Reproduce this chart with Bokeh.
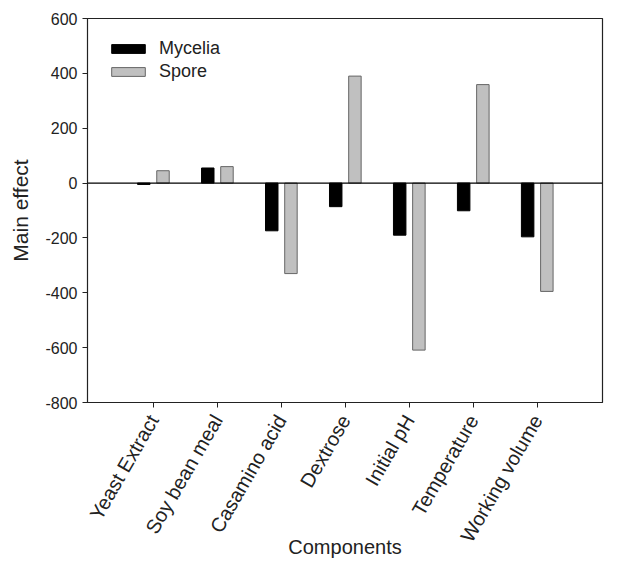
from bokeh.plotting import figure
from bokeh.models import FixedTicker, Span, Legend, LegendItem, Range1d
from bokeh.embed import file_html
from bokeh.resources import INLINE

categories = ["Yeast Extract", "Soy bean meal", "Casamino acid", "Dextrose",
              "Initial pH", "Temperature", "Working volume"]
mycelia = [-5, 55, -174, -86, -190, -101, -196]
spore = [45, 60, -330, 390, -609, 359, -395]
y_ticks = [-800, -600, -400, -200, 0, 200, 400, 600]

xs = list(range(1, len(categories) + 1))
off = 0.15
bw = 0.195

p = figure(width=641, height=561, output_backend="svg", toolbar_location=None,
           x_range=Range1d(-0.03, 8.02), y_range=Range1d(-800, 600),
           min_border_left=87, min_border_right=39, min_border_top=18,
           min_border_bottom=159)
p.grid.visible = False
p.outline_line_color = "#222222"
p.outline_line_width = 1.2

r1 = p.vbar(x=[x - off for x in xs], top=mycelia, bottom=0, width=bw,
            fill_color="black", line_color="black", line_width=1)
r2 = p.vbar(x=[x + off for x in xs], top=spore, bottom=0, width=bw,
            fill_color="#c0c0c0", line_color="#666666", line_width=1)

p.add_layout(Span(location=0, dimension="width", line_color="black", line_width=1.2))

p.xaxis.ticker = FixedTicker(ticks=xs)
p.xaxis.major_label_overrides = {x: c for x, c in zip(xs, categories)}
p.xaxis.major_label_orientation = 1.047
p.yaxis.ticker = FixedTicker(ticks=y_ticks)
p.yaxis.major_label_overrides = {t: str(t) for t in y_ticks}
for ax in (p.xaxis, p.yaxis):
    ax.minor_tick_line_color = None
    ax.major_tick_in = 0
    ax.major_tick_out = 5
    ax.axis_line_color = "#222222"
    ax.major_tick_line_color = "#222222"
    ax.major_label_text_font = "Liberation Sans"
    ax.major_label_text_color = "#222222"
    ax.axis_label_text_font = "Liberation Sans"
    ax.axis_label_text_font_style = "normal"
    ax.axis_label_text_color = "#222222"
p.xaxis.axis_label_text_font_size = "20px"
p.yaxis.axis_label_text_font_size = "21px"
p.yaxis.major_label_text_font_size = "16px"
p.yaxis.major_label_standoff = 5
p.xaxis.major_label_text_font_size = "20px"
p.xaxis.major_label_standoff = 9
p.xaxis.axis_label = "Components"
p.yaxis.axis_label = "Main effect"
p.xaxis.axis_label_standoff = -18
p.yaxis.axis_label_standoff = 10

legend = Legend(items=[LegendItem(label="Mycelia", renderers=[r1]),
                       LegendItem(label="Spore", renderers=[r2])],
                location="top_left")
legend.margin = 20
legend.padding = 5
legend.spacing = 2
legend.glyph_width = 42
legend.glyph_height = 11
legend.label_height = 20
legend.label_standoff = 10
legend.label_text_font = "Liberation Sans"
legend.label_text_font_size = "18px"
legend.label_text_color = "#222222"
legend.border_line_color = None
legend.background_fill_alpha = 0
p.add_layout(legend)

open("out.html", "w").write(file_html(p, INLINE))
